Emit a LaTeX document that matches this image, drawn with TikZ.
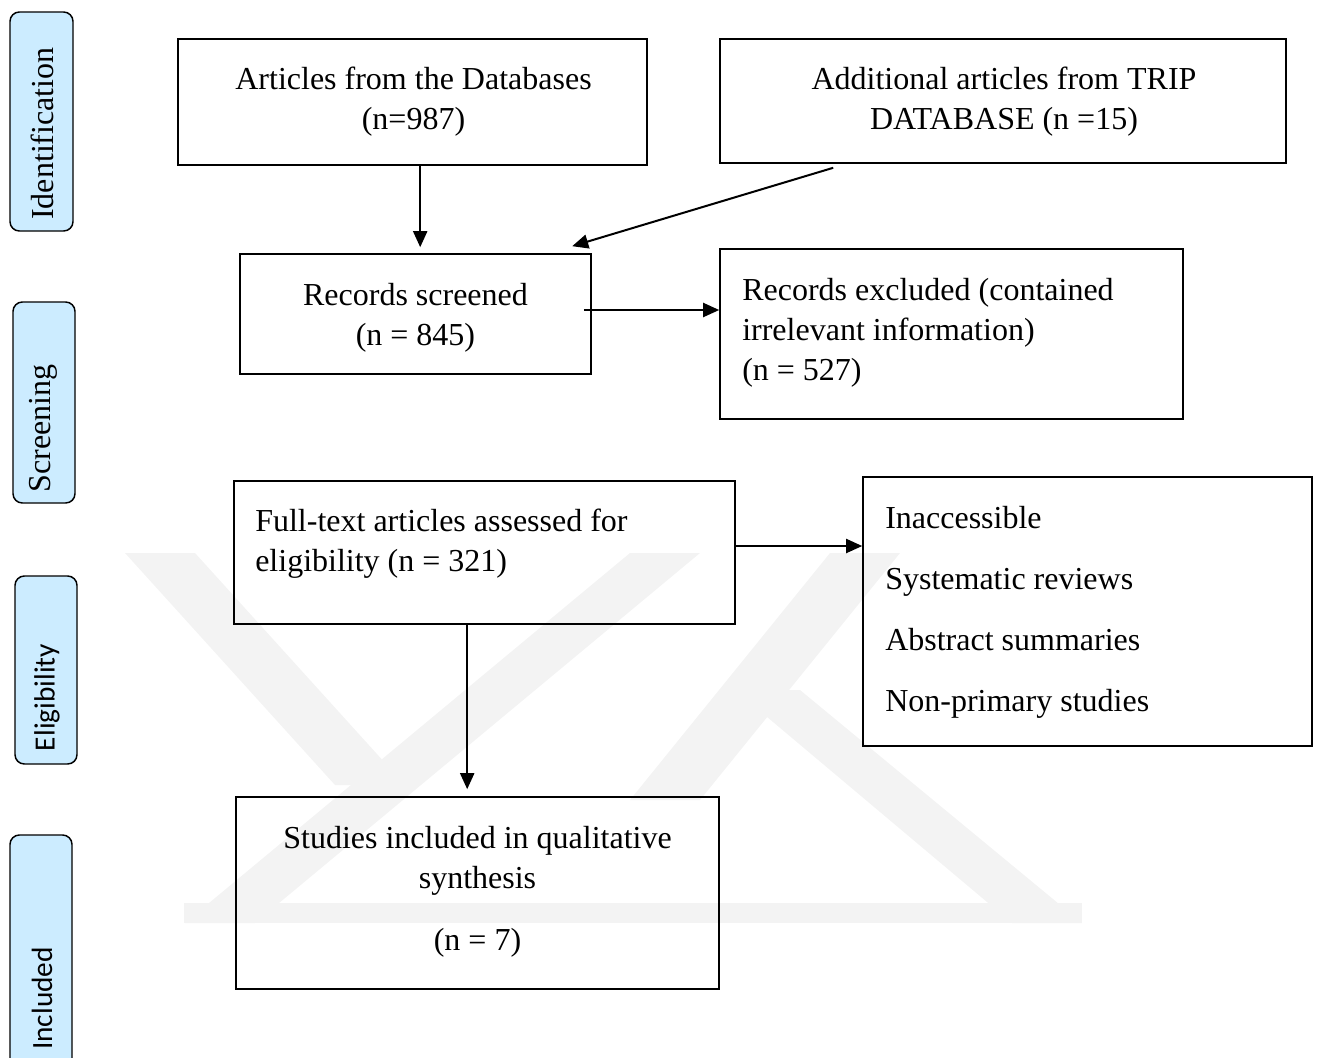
\documentclass[tikz,border=0pt]{standalone}
\usepackage{fontspec}
\setmainfont{Liberation Serif}
\newfontfamily\calfont{Carlito}
\usetikzlibrary{arrows.meta,calc}
\definecolor{tabblue}{RGB}{204,236,255}
\definecolor{wmgray}{RGB}{243,243,243}
\begin{document}
\begin{tikzpicture}[x=0.75pt,y=-0.75pt,
  box/.style={draw=black, line width=1.2pt, inner sep=0pt},
  txt/.style={font=\fontsize{24}{30}\selectfont, inner sep=0pt},
  tab/.style={draw=black, line width=1.1pt, fill=tabblue, rounded corners=7pt, inner sep=0pt},
  tabserif/.style={rotate=90, inner sep=0pt, font=\fontsize{24}{28}\selectfont},
  tabsans/.style={rotate=90, inner sep=0pt, font=\calfont\fontsize{22}{26}\selectfont},
  arr/.style={line width=1.5pt, -{Triangle[length=12pt,width=10.5pt]}},
  wm/.style={fill=wmgray, draw=none}]
\useasboundingbox (0,0) rectangle (1317,1057);

% faint watermark
\fill[wm] (125,553) -- (195,553) -- (405,785) -- (335,785) -- cycle;
\fill[wm] (630,553) -- (700,553) -- (255,923) -- (185,923) -- cycle;
\fill[wm] (830,553) -- (900,553) -- (700,800) -- (630,800) -- cycle;
\fill[wm] (735,690) -- (800,690) -- (1082,923) -- (1012,923) -- cycle;
\fill[wm] (184,903) rectangle (1082,923);

% stage tabs
\node[tab, minimum width=47.25pt, minimum height=164.25pt] (t1) at (41.5,121.5) {};
\node[tab, minimum width=46.5pt, minimum height=150.75pt] (t2) at (44,402.5) {};
\node[tab, minimum width=46.5pt, minimum height=141pt] (t3) at (46,670) {};
\node[tab, minimum width=46.5pt, minimum height=180pt] (t4) at (41,955) {};
\node[tabserif] (l1) at (42,133.5) {Identification};
\node[tabserif] (l2) at (43,428.5) {Screening};
\node[tabsans] (l3) at (47,697.5) {Eligibility};
\node[tabsans] (l4) at (42,998.5) {Included};

% boxes
\node[box, minimum width=351.75pt, minimum height=94.5pt] (b1) at (412.5,102) {};
\node[box, minimum width=424.5pt, minimum height=93pt] (b2) at (1003,101) {};
\node[box, minimum width=263.25pt, minimum height=90pt] (b3) at (415.5,314) {};
\node[box, minimum width=347.25pt, minimum height=127.5pt] (b4) at (951.5,334) {};
\node[box, minimum width=375.75pt, minimum height=107.25pt] (b5) at (484.5,552.5) {};
\node[box, minimum width=336.75pt, minimum height=201.75pt] (b6) at (1087.5,611.5) {};
\node[box, minimum width=362.25pt, minimum height=144pt] (b7) at (477.5,893) {};

% texts
\node[txt, align=center] (n1) at (413.5,101.5) {Articles from the Databases\\(n=987)};
\node[txt, align=center] (n2) at (1004,101.5) {Additional articles from TRIP\\DATABASE (n =15)};
\node[txt, align=center] (n3) at (415.5,317.5) {Records screened\\(n = 845)};
\node[txt, align=left, anchor=west] (n4) at (742,333) {Records excluded (contained\\irrelevant information)\\(n = 527)};
\node[txt, align=left, anchor=west] (n5) at (255,543.5) {Full-text articles assessed for\\eligibility (n = 321)};
\node[txt, align=left, anchor=west, font=\fontsize{24}{45.75}\selectfont] (n6) at (885,612) {Inaccessible\\Systematic reviews\\Abstract summaries\\Non-primary studies};
\node[txt, align=center] (n7) at (477.5,891.5) {Studies included in qualitative\\synthesis\\[16.5pt](n = 7)};

% connectors
\draw[arr] ($(b1.south west)+(243,0)$) -- ($(b3.north west)+(181,-6)$);
\draw[arr] ($(b2.south west)+(114,4)$) -- ($(b3.north west)+(333,-7)$);
\coordinate (s3) at ($(b3.east)+(-8,-4)$);
\draw[arr] (s3) -- (s3 -| b4.west);
\coordinate (s5) at ($(b5.east)+(0,-6.5)$);
\draw[arr] (s5) -- (s5 -| b6.west);
\coordinate (s7) at ($(b5.south west)+(234,0)$);
\draw[arr] (s7) -- ($(s7 |- b7.north)+(0,-7)$);
\end{tikzpicture}
\end{document}
